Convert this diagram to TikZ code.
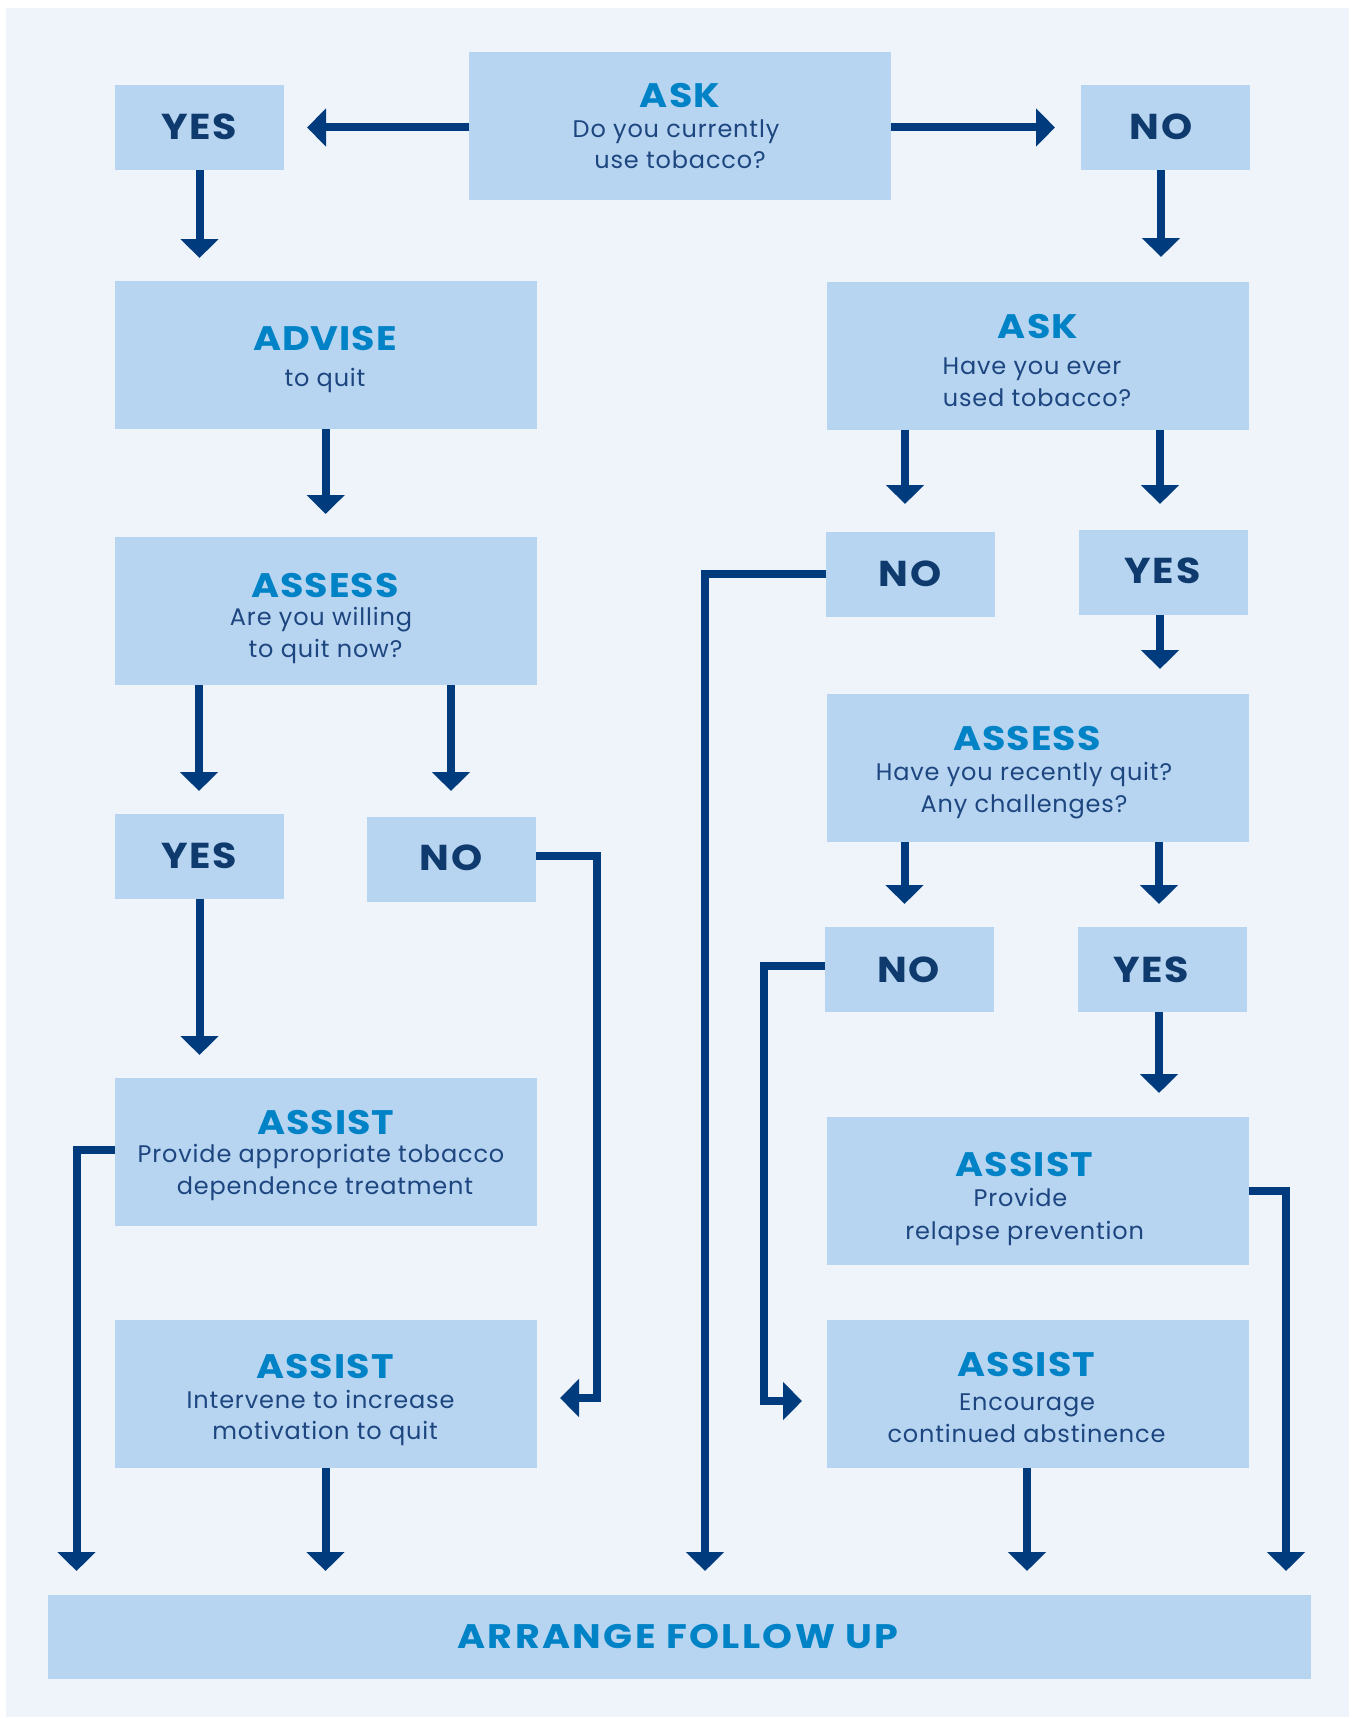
\documentclass[tikz,border=0pt]{standalone}
\usepackage{fontspec}
\setmainfont{Poppins}
\newfontfamily\bodyf{Poppins}[LetterSpace=3.5]
\newfontfamily\headf{Poppins}[LetterSpace=3,FakeStretch=1.12]
\newfontfamily\arrf{Poppins}[LetterSpace=7,FakeStretch=1.12]
\newfontfamily\ynf{Poppins}[LetterSpace=5,FakeStretch=1.1]
\usetikzlibrary{arrows.meta}
\definecolor{bgc}{HTML}{EFF3FA}
\definecolor{boxc}{HTML}{B7D5F0}
\definecolor{arrc}{HTML}{003C7D}
\definecolor{ttlc}{HTML}{0082C6}
\definecolor{txtc}{HTML}{1D4680}
\definecolor{ync}{HTML}{0E3A6E}
\begin{document}
\begin{tikzpicture}[x=1pt,y=-1pt,
  box/.style={fill=boxc,draw=none,inner sep=0pt,outer sep=0pt},
  bigbox/.style={box,minimum width=422pt,minimum height=148pt},
  smallbox/.style={box,minimum width=169pt,minimum height=85pt},
  ttl/.style={anchor=base,text=ttlc,font=\headf\bfseries\fontsize{34}{34}\selectfont,inner sep=0pt},
  arrttl/.style={anchor=base,text=ttlc,font=\arrf\bfseries\fontsize{34}{34}\selectfont,inner sep=0pt},
  txt/.style={anchor=base,text=txtc,font=\bodyf\fontsize{24}{24}\selectfont,inner sep=0pt},
  yn/.style={anchor=base,text=ync,font=\ynf\bfseries\fontsize{36}{36}\selectfont,inner sep=0pt},
  con/.style={draw=arrc,line width=8pt,line join=miter,-{Triangle[length=19pt,width=37pt]}}
]
\useasboundingbox (0,0) rectangle (1352,1718);
\fill[white] (0,0) rectangle (1352,1718);
\fill[bgc] (6,8) rectangle (1349,1717);

% boxes
\node[bigbox] (ask1) at (680,126) {};
\node[smallbox] (yes1) at (199.5,127.5) {};
\node[smallbox] (no1) at (1165,127.5) {};
\node[bigbox] (advise) at (326,355) {};
\node[bigbox] (ask2) at (1037.5,355.5) {};
\node[bigbox] (assess1) at (325.5,611) {};
\node[smallbox] (no2) at (910.5,574) {};
\node[smallbox] (yes2) at (1163,572.5) {};
\node[bigbox] (assess2) at (1037.5,767.5) {};
\node[smallbox] (yes4) at (199.5,856.5) {};
\node[smallbox] (no4) at (451.5,859.5) {};
\node[smallbox] (no3) at (909.5,969.5) {};
\node[smallbox] (yes3) at (1162.5,969.5) {};
\node[bigbox] (assist1) at (326,1152) {};
\node[bigbox] (assist3) at (1037.5,1190.5) {};
\node[bigbox] (assist2) at (326,1393.5) {};
\node[bigbox] (assist4) at (1037.5,1393.5) {};
\node[box,minimum width=1263pt,minimum height=84pt] (arrange) at (679.5,1637) {};

% texts
\node[ttl] (ask1a) at (680,108) {ASK};
\node[txt] (ask1b) at (676,138) {Do you currently};
\node[txt] (ask1c) at (680,168) {use tobacco?};
\node[ttl] (advisea) at (325,350) {ADVISE};
\node[txt] (adviseb) at (325,386) {to quit};
\node[ttl] (ask2a) at (1038,338) {ASK};
\node[txt] (ask2b) at (1032,374) {Have you ever};
\node[txt] (ask2c) at (1037,406) {used tobacco?};
\node[ttl] (assess1a) at (325,597) {ASSESS};
\node[txt] (assess1b) at (321,625) {Are you willing};
\node[txt] (assess1c) at (325.5,657) {to quit now?};
\node[ttl] (assess2a) at (1027,750) {ASSESS};
\node[txt] (assess2b) at (1024,780) {Have you recently quit?};
\node[txt] (assess2c) at (1024,812) {Any challenges?};
\node[ttl] (assist1a) at (325.7,1134) {ASSIST};
\node[txt] (assist1b) at (321,1162) {Provide appropriate tobacco};
\node[txt] (assist1c) at (325,1194) {dependence treatment};
\node[ttl] (assist2a) at (325,1378) {ASSIST};
\node[txt] (assist2b) at (320.6,1408) {Intervene to increase};
\node[txt] (assist2c) at (325,1439) {motivation to quit};
\node[ttl] (assist3a) at (1024.5,1176) {ASSIST};
\node[txt] (assist3b) at (1020.5,1206) {Provide};
\node[txt] (assist3c) at (1024.6,1239) {relapse prevention};
\node[ttl] (assist4a) at (1026.5,1376) {ASSIST};
\node[txt] (assist4b) at (1027,1410) {Encourage};
\node[txt] (assist4c) at (1026.5,1442) {continued abstinence};
\node[arrttl] (arrangea) at (678,1648) {ARRANGE FOLLOW UP};

\node[yn] (yes1t) at (199,139.5) {YES};
\node[yn] (no1t) at (1161,139.5) {NO};
\node[yn] (no2t) at (910,586) {NO};
\node[yn] (yes2t) at (1162.5,583) {YES};
\node[yn] (yes4t) at (199,868.6) {YES};
\node[yn] (no4t) at (451,870.5) {NO};
\node[yn] (no3t) at (908.5,982) {NO};
\node[yn] (yes3t) at (1151,982) {YES};

% connectors
\coordinate (c1) at (307,127.5);
\coordinate (c2) at (1055,127.5);
\coordinate (c3) at (199.5,258);
\coordinate (c4) at (1161,257);
\coordinate (c5) at (325.7,514);
\coordinate (c6) at (905,504);
\coordinate (c7) at (1160,504);
\coordinate (c8) at (1160,669);
\coordinate (c9) at (199,791);
\coordinate (c10) at (451,791);
\coordinate (c11) at (904.5,904);
\coordinate (c12) at (1159,904);
\coordinate (c13) at (199.5,1055);
\coordinate (c14) at (1159,1093);
\coordinate (k1) at (597,855.5);
\coordinate (c15) at (560,1398);
\coordinate (k2) at (76.5,1150);
\coordinate (c16) at (76.5,1571);
\coordinate (c17) at (325.5,1571);
\coordinate (k3) at (705,574);
\coordinate (c18) at (705,1571);
\coordinate (k4) at (764,966);
\coordinate (c19) at (802,1401);
\coordinate (k5) at (1286,1191);
\coordinate (c20) at (1286,1571);
\coordinate (c21) at (1027,1571);

\draw[con] (c1 -| ask1.west) -- (c1);
\draw[con] (c2 -| ask1.east) -- (c2);
\draw[con] (c3 |- yes1.south) -- (c3);
\draw[con] (c4 |- no1.south) -- (c4);
\draw[con] (c5 |- advise.south) -- (c5);
\draw[con] (c6 |- ask2.south) -- (c6);
\draw[con] (c7 |- ask2.south) -- (c7);
\draw[con] (c8 |- yes2.south) -- (c8);
\draw[con] (c9 |- assess1.south) -- (c9);
\draw[con] (c10 |- assess1.south) -- (c10);
\draw[con] (c11 |- assess2.south) -- (c11);
\draw[con] (c12 |- assess2.south) -- (c12);
\draw[con] (c13 |- yes4.south) -- (c13);
\draw[con] (c14 |- yes3.south) -- (c14);
\draw[con] (k1 -| no4.east) -- (k1) |- (c15);
\draw[con] (k2 -| assist1.west) -- (k2) -- (c16);
\draw[con] (c17 |- assist2.south) -- (c17);
\draw[con] (no2.west) -- (k3) -- (c18);
\draw[con] (k4 -| no3.west) -- (k4) |- (c19);
\draw[con] (k5 -| assist3.east) -- (k5) -- (c20);
\draw[con] (c21 |- assist4.south) -- (c21);
\end{tikzpicture}
\end{document}
